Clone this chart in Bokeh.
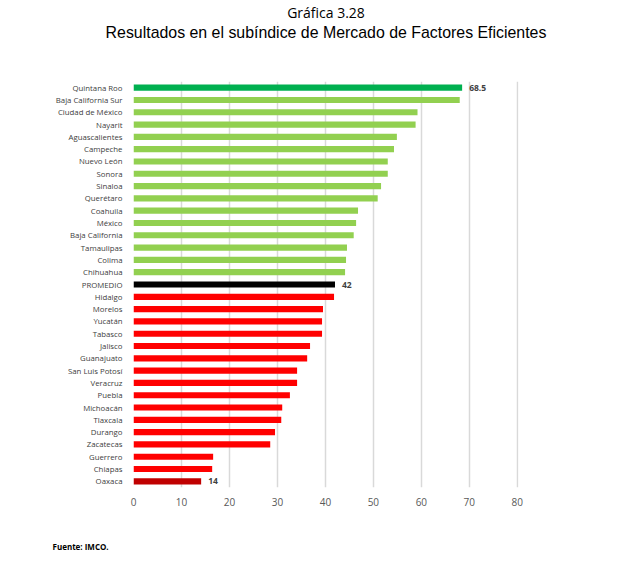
from bokeh.plotting import figure
from bokeh.layouts import column
from bokeh.models import Range1d, FactorRange, Title, ColumnDataSource, FixedTicker
from bokeh.core.properties import value
from bokeh.embed import file_html
from bokeh.resources import INLINE

states = ["Quintana Roo", "Baja California Sur", "Ciudad de México", "Nayarit",
          "Aguascalientes", "Campeche", "Nuevo León", "Sonora", "Sinaloa",
          "Querétaro", "Coahuila", "México", "Baja California", "Tamaulipas",
          "Colima", "Chihuahua", "PROMEDIO", "Hidalgo", "Morelos", "Yucatán",
          "Tabasco", "Jalisco", "Guanajuato", "San Luis Potosí", "Veracruz",
          "Puebla", "Michoacán", "Tlaxcala", "Durango", "Zacatecas", "Guerrero",
          "Chiapas", "Oaxaca"]
scores = [68.5, 68.0, 59.2, 58.8, 54.9, 54.3, 53.0, 53.0, 51.6, 50.9, 46.8,
          46.4, 45.9, 44.5, 44.3, 44.1, 42.0, 41.8, 39.5, 39.3, 39.3, 36.8,
          36.2, 34.1, 34.1, 32.6, 31.0, 30.8, 29.5, 28.5, 16.6, 16.4, 14.1]
value_labels = {"Quintana Roo": "68.5", "PROMEDIO": "42", "Oaxaca": "14"}
x_ticks = [0, 10, 20, 30, 40, 50, 60, 70, 80]

avg = scores[states.index("PROMEDIO")]
colors = []
for i, (s, v) in enumerate(zip(states, scores)):
    if s == "PROMEDIO":
        colors.append("#000000")
    elif i == 0:
        colors.append("#00B050")
    elif i == len(states) - 1:
        colors.append("#C00000")
    elif v > avg:
        colors.append("#92D050")
    else:
        colors.append("#FF0000")

src = ColumnDataSource(dict(state=states, score=scores, color=colors))
lab_states = [s for s in states if s in value_labels]
lab_src = ColumnDataSource(dict(
    state=lab_states,
    score=[scores[states.index(s)] for s in lab_states],
    text=[value_labels[s] for s in lab_states]))

# header holding the two title lines
h = figure(width=608, height=81, output_backend="svg", toolbar_location=None,
           x_range=Range1d(0, 1), y_range=Range1d(0, 1),
           x_axis_type=None, y_axis_type=None, min_border=0)
h.outline_line_color = None
h.grid.visible = False
h.add_layout(Title(text="Resultados en el subíndice de Mercado de Factores Eficientes",
                   align="center", text_font="Liberation Sans", text_font_size="15.9px",
                   text_font_style="normal", text_color="#000000", standoff=0),
             "above")
h.add_layout(Title(text="Gráfica 3.28", align="center", text_font="Open Sans",
                   text_font_size="14px", text_font_style="normal",
                   text_color="#000000", standoff=0), "above")

p = figure(width=608, height=501, output_backend="svg", toolbar_location=None,
           y_range=FactorRange(factors=list(reversed(states)), range_padding=0),
           x_range=Range1d(0, 80.25),
           min_border_left=133, min_border_right=90, min_border_top=0,
           min_border_bottom=95)
p.outline_line_color = None

p.hbar(y="state", right="score", left=0, height=0.5, color="color",
       line_color=None, source=src)
p.text(x="score", y="state", text="text", source=lab_src, x_offset=7,
       text_baseline="middle", text_font=value("Open Sans"),
       text_font_size="8.5px", text_font_style="bold", text_color="#404040")

p.xaxis.ticker = FixedTicker(ticks=x_ticks)
p.xaxis.axis_line_color = None
p.xaxis.major_tick_line_color = None
p.xaxis.minor_tick_line_color = None
p.xaxis.major_label_text_font = "Open Sans"
p.xaxis.major_label_text_font_size = "10px"
p.xaxis.major_label_text_color = "#595959"
p.xaxis.major_label_standoff = 4

p.yaxis.axis_line_color = None
p.yaxis.major_tick_line_color = None
p.yaxis.minor_tick_line_color = None
p.yaxis.major_label_text_font = "Open Sans"
p.yaxis.major_label_text_font_size = "7.8px"
p.yaxis.major_label_text_color = "#404040"
p.yaxis.major_label_standoff = 5

p.ygrid.grid_line_color = None
p.xgrid.grid_line_color = "#d9d9d9"
p.xgrid.grid_line_width = 1.5

p.add_layout(Title(text="Fuente: IMCO.", align="left", text_font="Open Sans",
                   text_font_size="8px", text_font_style="bold",
                   text_color="#000000", offset=-81, standoff=60), "below")

layout = column(h, p, spacing=0)
open("out.html", "w").write(file_html(layout, INLINE))
